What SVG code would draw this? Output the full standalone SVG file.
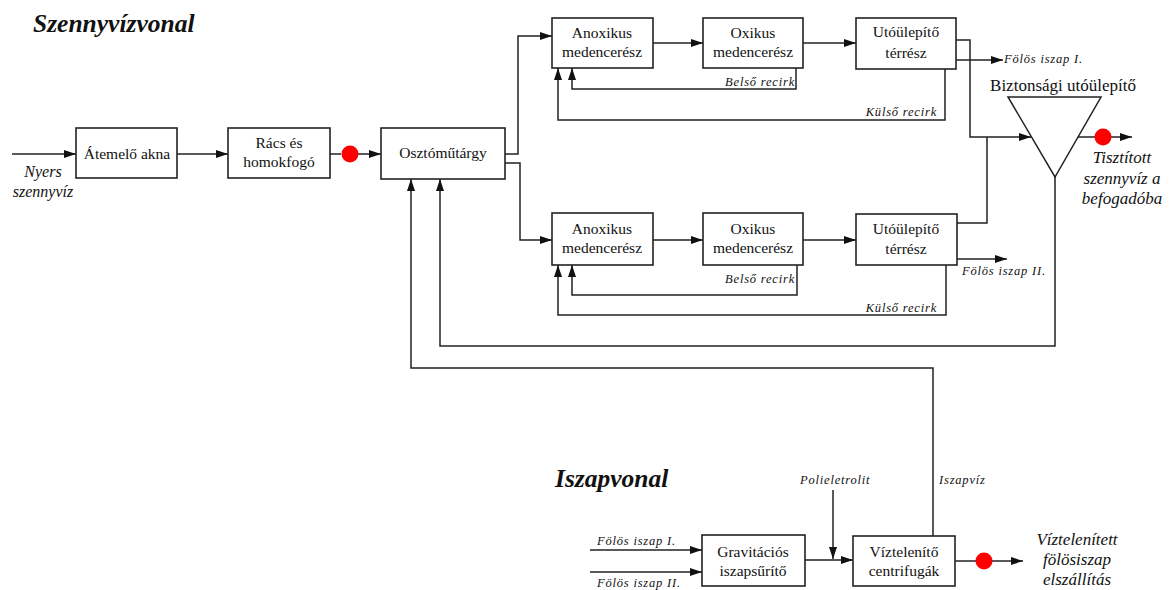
<svg xmlns="http://www.w3.org/2000/svg" width="1170" height="590" viewBox="0 0 1170 590">
<style>
.bx{fill:#fff;stroke:#222;stroke-width:1.6}
.t{font-family:"Liberation Serif","Times New Roman",serif;font-size:15.5px;fill:#111;text-anchor:middle}
.it{font-family:"Liberation Serif","Times New Roman",serif;font-style:italic;fill:#111}
.s{font-size:12.5px;letter-spacing:0.8px}
.m{font-size:16px;text-anchor:middle}
.h{font-family:"Liberation Serif","Times New Roman",serif;font-style:italic;font-weight:bold;font-size:25.5px;fill:#111}
.c{fill:none;stroke:#222;stroke-width:1.5}
.a{marker-end:url(#ar)}
.dot{fill:#ff0000}
</style>
<defs>
<marker id="ar" viewBox="0 0 12 8" markerWidth="12" markerHeight="8" refX="12" refY="4" orient="auto" markerUnits="userSpaceOnUse">
<path d="M0,0 L12,4 L0,8 z" fill="#111"/>
</marker>
</defs>
<rect width="1170" height="590" fill="#fff"/>
<text class="h" x="33" y="32">Szennyvízvonal</text>
<text class="h" x="555" y="487">Iszapvonal</text>

<g id="connectors">
<path class="c a" d="M12,154 H76"/>
<path class="c a" d="M177,154 H228"/>
<path class="c" d="M330,154 H341"/>
<path class="c a" d="M358,154 H381"/>
<path class="c a" d="M505,154 H518 V36 H552"/>
<path class="c a" d="M505,163 H520 V240 H552"/>
<path class="c a" d="M653,43 H703"/>
<path class="c a" d="M803,43 H856"/>
<path class="c a" d="M653,240 H703"/>
<path class="c a" d="M803,240 H856"/>
<path class="c a" d="M796,68 V89 H572 V68"/>
<path class="c a" d="M945,69 V120 H558 V68"/>
<path class="c a" d="M797,265 V295 H572 V265"/>
<path class="c a" d="M946,265 V315 H558 V265"/>
<path class="c a" d="M956,60 H1003"/>
<path class="c a" d="M957,259 H1007"/>
<path class="c a" d="M956,40 H970 V137 H1031"/>
<path class="c" d="M957,223 H987 V137"/>
<path class="c" d="M1078,137 H1095"/>
<path class="c a" d="M1111,137 H1132"/>
<path class="c a" d="M1055,177 V346 H440 V179"/>
<path class="c a" d="M933,536 V368 H411 V179"/>
<path class="c a" d="M590,550 H702"/>
<path class="c a" d="M590,572 H702"/>
<path class="c a" d="M805,560 H853"/>
<path class="c a" d="M833,490 V559"/>
<path class="c" d="M955,561 H976"/>
<path class="c a" d="M992,561 H1023"/>
</g>

<g id="dot1"><circle class="dot" cx="350" cy="154" r="8.5"/></g>
<g id="dot2"><circle class="dot" cx="1103" cy="137" r="8.5"/></g>
<g id="dot3"><circle class="dot" cx="984" cy="561" r="8.5"/></g>

<g id="atemelo"><rect class="bx" x="76" y="128" width="101" height="50"/><text class="t" x="127" y="159">Átemelő akna</text></g>
<g id="racs"><rect class="bx" x="228" y="128" width="102" height="50"/><text class="t" x="279" y="148">Rács és</text><text class="t" x="279" y="167">homokfogó</text></g>
<g id="oszto"><rect class="bx" x="381" y="128" width="124" height="51"/><text class="t" x="443" y="158">Osztóműtárgy</text></g>

<g id="anox1"><rect class="bx" x="552" y="18" width="101" height="50"/><text class="t" x="602" y="38">Anoxikus</text><text class="t" x="602" y="57">medencerész</text></g>
<g id="oxi1"><rect class="bx" x="703" y="18" width="100" height="50"/><text class="t" x="753" y="38">Oxikus</text><text class="t" x="753" y="57">medencerész</text></g>
<g id="uto1"><rect class="bx" x="856" y="18" width="100" height="51"/><text class="t" x="906" y="37">Utóülepítő</text><text class="t" x="906" y="58">térrész</text></g>

<g id="anox2"><rect class="bx" x="552" y="213" width="101" height="52"/><text class="t" x="602" y="234">Anoxikus</text><text class="t" x="602" y="253">medencerész</text></g>
<g id="oxi2"><rect class="bx" x="703" y="213" width="100" height="52"/><text class="t" x="753" y="234">Oxikus</text><text class="t" x="753" y="253">medencerész</text></g>
<g id="uto2"><rect class="bx" x="856" y="214" width="101" height="51"/><text class="t" x="906" y="234">Utóülepítő</text><text class="t" x="906" y="254">térrész</text></g>

<g id="biztonsagi">
<path class="c" d="M1008,97 H1101 L1055,177 Z" fill="none"/>
<text class="t" x="1063" y="91" style="font-size:17px">Biztonsági utóülepítő</text>
</g>

<g id="gravit"><rect class="bx" x="702" y="535" width="103" height="51"/><text class="t" x="753" y="557">Gravitációs</text><text class="t" x="753" y="576">iszapsűrítő</text></g>
<g id="viztel"><rect class="bx" x="853" y="536" width="102" height="50"/><text class="t" x="904" y="557">Víztelenítő</text><text class="t" x="904" y="576">centrifugák</text></g>

<g id="labels">
<text class="it m" x="43" y="177">Nyers</text>
<text class="it m" x="43" y="197">szennyvíz</text>
<text class="it s" x="795" y="86" text-anchor="end">Belső recirk</text>
<text class="it s" x="937" y="116" text-anchor="end">Külső recirk</text>
<text class="it s" x="795" y="283" text-anchor="end">Belső recirk</text>
<text class="it s" x="937" y="312" text-anchor="end">Külső recirk</text>
<text class="it s" x="1004" y="63">Fölös iszap I.</text>
<text class="it s" x="962" y="275">Fölös iszap II.</text>
<text class="it m" x="1122" y="163" style="font-size:17px">Tisztított</text>
<text class="it m" x="1122" y="184" style="font-size:17px">szennyvíz a</text>
<text class="it m" x="1122" y="204" style="font-size:17px">befogadóba</text>
<text class="it s" x="597" y="545">Fölös iszap I.</text>
<text class="it s" x="597" y="587">Fölös iszap II.</text>
<text class="it s" x="800" y="484">Polieletrolit</text>
<text class="it s" x="939" y="484">Iszapvíz</text>
<text class="it m" x="1077" y="545" style="font-size:17px">Víztelenített</text>
<text class="it m" x="1077" y="565" style="font-size:17px">fölösiszap</text>
<text class="it m" x="1077" y="585" style="font-size:17px">elszállítás</text>
</g>
</svg>
